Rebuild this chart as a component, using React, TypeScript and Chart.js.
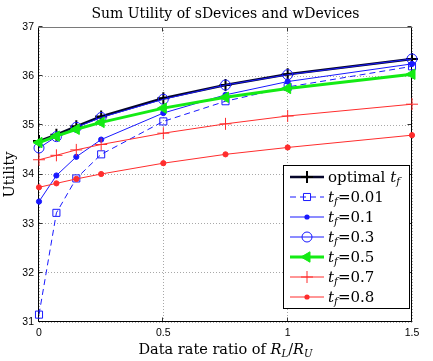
import React, { useEffect, useRef } from 'react';
import { Chart, registerables } from 'chart.js';

Chart.register(...registerables);

// ---------- data ----------
const xValues = [0, 0.07, 0.15, 0.25, 0.5, 0.75, 1, 1.5];
const optimalTf = [34.68, 34.81, 34.98, 35.18, 35.55, 35.82, 36.04, 36.35];
const tf001 = [31.15, 33.22, 33.92, 34.41, 35.08, 35.49, 35.78, 36.2];
const tf01 = [33.45, 33.98, 34.36, 34.71, 35.25, 35.62, 35.89, 36.25];
const tf03 = [34.54, 34.77, 34.96, 35.16, 35.53, 35.82, 36.03, 36.35];
const tf05 = [34.65, 34.78, 34.92, 35.06, 35.35, 35.57, 35.75, 36.04];
const tf07 = [34.3, 34.39, 34.5, 34.61, 34.84, 35.03, 35.19, 35.43];
const tf08 = [33.74, 33.82, 33.91, 34.01, 34.23, 34.41, 34.55, 34.8];

const seriesValues = [optimalTf, tf001, tf01, tf03, tf05, tf07, tf08];
const seriesNames = ['optimal', '0.01', '0.1', '0.3', '0.5', '0.7', '0.8'];
const xTicks = [0, 0.5, 1, 1.5];
const yTicks = [31, 32, 33, 34, 35, 36, 37];
const titleText = 'Sum Utility of sDevices and wDevices';
const yTitleText = 'Utility';
const xTitlePrefix = 'Data rate ratio of ';

// ---------- styles ----------
const BLUE = 'rgb(25,25,255)';
const RED = 'rgb(255,45,45)';
const GREEN = 'rgb(20,235,20)';
const SERIF = '"DejaVu Serif", "Liberation Serif", serif';
const SANS = '"Liberation Sans", Arial, sans-serif';

type MarkerKind = 'cross' | 'rect' | 'dot' | 'circle' | 'triLeft';
interface Style {
  color: string;
  lineWidth: number;
  dash: number[];
  marker: MarkerKind;
  radius: number;
  markerWidth: number;
  markerColor: string;
}

const styles: Style[] = [
  { color: '#05052a', lineWidth: 2.5, dash: [], marker: 'cross', radius: 6, markerWidth: 2, markerColor: '#000' },
  { color: BLUE, lineWidth: 1, dash: [6, 4], marker: 'rect', radius: 5, markerWidth: 1, markerColor: BLUE },
  { color: BLUE, lineWidth: 1, dash: [], marker: 'dot', radius: 2.6, markerWidth: 1, markerColor: BLUE },
  { color: BLUE, lineWidth: 1, dash: [], marker: 'circle', radius: 5, markerWidth: 1, markerColor: BLUE },
  { color: GREEN, lineWidth: 3, dash: [], marker: 'triLeft', radius: 6, markerWidth: 1, markerColor: GREEN },
  { color: RED, lineWidth: 1, dash: [], marker: 'cross', radius: 6, markerWidth: 1, markerColor: RED },
  { color: RED, lineWidth: 1, dash: [], marker: 'dot', radius: 2.6, markerWidth: 1, markerColor: RED },
];

const chartPointStyle = (m: MarkerKind) =>
  m === 'cross' ? 'cross' : m === 'rect' ? 'rect' : m === 'triLeft' ? 'triangle' : 'circle';

function drawMarker(ctx: CanvasRenderingContext2D, s: Style, x: number, y: number) {
  const r = s.radius;
  ctx.save();
  ctx.setLineDash([]);
  ctx.strokeStyle = s.markerColor;
  ctx.fillStyle = s.markerColor;
  ctx.lineWidth = s.markerWidth;
  ctx.beginPath();
  switch (s.marker) {
    case 'cross':
      ctx.moveTo(x - r, y); ctx.lineTo(x + r, y);
      ctx.moveTo(x, y - r); ctx.lineTo(x, y + r);
      ctx.stroke();
      break;
    case 'rect': {
      const h = r * Math.SQRT1_2;
      ctx.rect(x - h, y - h, 2 * h, 2 * h);
      ctx.stroke();
      break;
    }
    case 'dot':
      ctx.arc(x, y, r, 0, Math.PI * 2);
      ctx.fill();
      break;
    case 'circle':
      ctx.arc(x, y, r, 0, Math.PI * 2);
      ctx.stroke();
      break;
    case 'triLeft':
      ctx.moveTo(x - r, y);
      ctx.lineTo(x + r * 0.5, y - r * 0.866);
      ctx.lineTo(x + r * 0.5, y + r * 0.866);
      ctx.closePath();
      ctx.fill();
      ctx.stroke();
      break;
  }
  ctx.restore();
}

interface Seg { t: string; it?: boolean; sub?: boolean }

function segFont(seg: Seg, size: number) {
  const sz = seg.sub ? size * 0.7 : size;
  return `${seg.it ? 'italic ' : ''}${sz}px ${SERIF}`;
}

function drawSegs(ctx: CanvasRenderingContext2D, segs: Seg[], x: number, y: number, size: number, align: 'left' | 'center') {
  ctx.save();
  ctx.textBaseline = 'alphabetic';
  ctx.textAlign = 'left';
  let total = 0;
  for (const s of segs) { ctx.font = segFont(s, size); total += ctx.measureText(s.t).width; }
  let cx = align === 'center' ? x - total / 2 : x;
  for (const s of segs) {
    ctx.font = segFont(s, size);
    ctx.fillText(s.t, cx, s.sub ? y + size * 0.22 : y);
    cx += ctx.measureText(s.t).width;
  }
  ctx.restore();
}

const decorPlugin = {
  id: 'decor',
  beforeDatasetsDraw(chart: any) {
    const { ctx, chartArea: a, scales } = chart;
    ctx.save();
    const L = Math.round(a.left) - 0.5, R = Math.round(a.right) - 0.5;
    const T = Math.round(a.top) + 0.5, B = Math.round(a.bottom) - 0.5;
    // inward ticks
    ctx.strokeStyle = '#333';
    ctx.lineWidth = 1;
    ctx.beginPath();
    for (const v of xTicks) {
      const px = Math.round(scales.x.getPixelForValue(v)) - 0.5;
      ctx.moveTo(px, B); ctx.lineTo(px, B - 4);
      ctx.moveTo(px, T); ctx.lineTo(px, T + 4);
    }
    for (const v of yTicks) {
      const py = Math.round(scales.y.getPixelForValue(v)) - 0.5;
      ctx.moveTo(L, py); ctx.lineTo(L + 4, py);
      ctx.moveTo(R, py); ctx.lineTo(R - 4, py);
    }
    ctx.stroke();
    // frame
    ctx.strokeStyle = '#000';
    ctx.beginPath();
    ctx.moveTo(L, T); ctx.lineTo(L, B); ctx.lineTo(R, B); ctx.lineTo(R, T);
    ctx.stroke();
    ctx.strokeStyle = '#7a7a7a';
    ctx.beginPath();
    ctx.moveTo(L, T); ctx.lineTo(R, T);
    ctx.stroke();
    ctx.restore();
  },
  afterDraw(chart: any) {
    const { ctx, chartArea: a } = chart;
    ctx.save();
    ctx.fillStyle = '#000';
    // title
    drawSegs(ctx, [{ t: titleText }], (a.left + a.right) / 2, 17.5, 14, 'center');
    // x title
    drawSegs(ctx, [
      { t: xTitlePrefix },
      { t: 'R', it: true }, { t: 'L', it: true, sub: true },
      { t: '/' },
      { t: 'R', it: true }, { t: 'U', it: true, sub: true },
    ], (a.left + a.right) / 2, 354, 14.5, 'center');
    // y title
    ctx.save();
    ctx.translate(14, (a.top + a.bottom) / 2);
    ctx.rotate(-Math.PI / 2);
    drawSegs(ctx, [{ t: yTitleText }], 0, 0, 14.5, 'center');
    ctx.restore();

    // legend
    const bx = 283.5, by = 165.5, bw = 126, bh = 143;
    ctx.fillStyle = '#fff';
    ctx.fillRect(bx, by, bw, bh);
    ctx.strokeStyle = '#000';
    ctx.lineWidth = 1;
    ctx.strokeRect(bx, by, bw, bh);
    const rowStart = 177, rowGap = 20;
    seriesNames.forEach((name, i) => {
      const s = styles[i];
      const y = rowStart + i * rowGap;
      ctx.save();
      ctx.strokeStyle = s.color;
      ctx.lineWidth = s.lineWidth;
      ctx.setLineDash(s.dash);
      ctx.beginPath();
      ctx.moveTo(290, y); ctx.lineTo(324, y);
      ctx.stroke();
      ctx.restore();
      drawMarker(ctx, s, 307, y);
      ctx.fillStyle = '#000';
      const segs: Seg[] = i === 0
        ? [{ t: 'optimal ' }, { t: 't', it: true }, { t: 'f', it: true, sub: true }]
        : [{ t: 't', it: true }, { t: 'f', it: true, sub: true }, { t: '=' + name }];
      drawSegs(ctx, segs, 328, y + 5, 15, 'left');
    });
    ctx.restore();
  },
};

export default function App() {
  const ref = useRef<HTMLCanvasElement | null>(null);
  useEffect(() => {
    if (!ref.current) return;
    const datasets = seriesValues.map((vals, i) => {
      const s = styles[i];
      return {
        label: seriesNames[i],
        data: vals.map((v, j) => ({ x: xValues[j], y: v })),
        borderColor: s.color,
        borderWidth: s.lineWidth,
        borderDash: s.dash,
        pointStyle: chartPointStyle(s.marker),
        pointRotation: s.marker === 'triLeft' ? -90 : 0,
        pointRadius: s.radius,
        pointBorderWidth: s.markerWidth,
        pointBorderColor: s.markerColor,
        pointBackgroundColor: s.marker === 'dot' || s.marker === 'triLeft' ? s.markerColor : 'rgba(0,0,0,0)',
        fill: false,
        tension: 0,
        clip: false as any,
        order: -i,
      };
    });
    const chart = new Chart(ref.current, {
      type: 'line',
      data: { datasets },
      options: {
        animation: false,
        responsive: false,
        events: [],
        layout: { padding: { left: 0, right: 21, top: 27, bottom: 0 } },
        plugins: {
          legend: { display: false },
          title: { display: false },
          tooltip: { enabled: false },
        },
        scales: {
          x: {
            type: 'linear',
            min: 0,
            max: 1.5,
            afterBuildTicks: (s: any) => { s.ticks = xTicks.map((v) => ({ value: v })); },
            afterFit: (s: any) => { s.height = 39; },
            grid: { color: '#a8a8a8', drawTicks: false, lineWidth: 1 },
            border: { display: false, dash: [1, 2] },
            ticks: {
              padding: 5,
              color: '#000',
              maxRotation: 0,
              font: { family: SANS, size: 10.5 },
              callback: (v: any) => String(v),
            },
          },
          y: {
            type: 'linear',
            min: 31,
            max: 37,
            afterBuildTicks: (s: any) => { s.ticks = yTicks.map((v) => ({ value: v })); },
            afterFit: (s: any) => { s.width = 39; },
            grid: { color: '#a8a8a8', drawTicks: false, lineWidth: 1 },
            border: { display: false, dash: [1, 2] },
            ticks: {
              padding: 5,
              color: '#000',
              font: { family: SANS, size: 10.5 },
              callback: (v: any) => String(v),
            },
          },
        },
      },
      plugins: [decorPlugin],
    });
    return () => chart.destroy();
  }, []);
  return (
    <div style={{ position: 'absolute', left: 0, top: 0, width: 433, height: 361, background: '#fff' }}>
      <canvas ref={ref} width={433} height={361} style={{ display: 'block', width: 433, height: 361 }} />
    </div>
  );
}
